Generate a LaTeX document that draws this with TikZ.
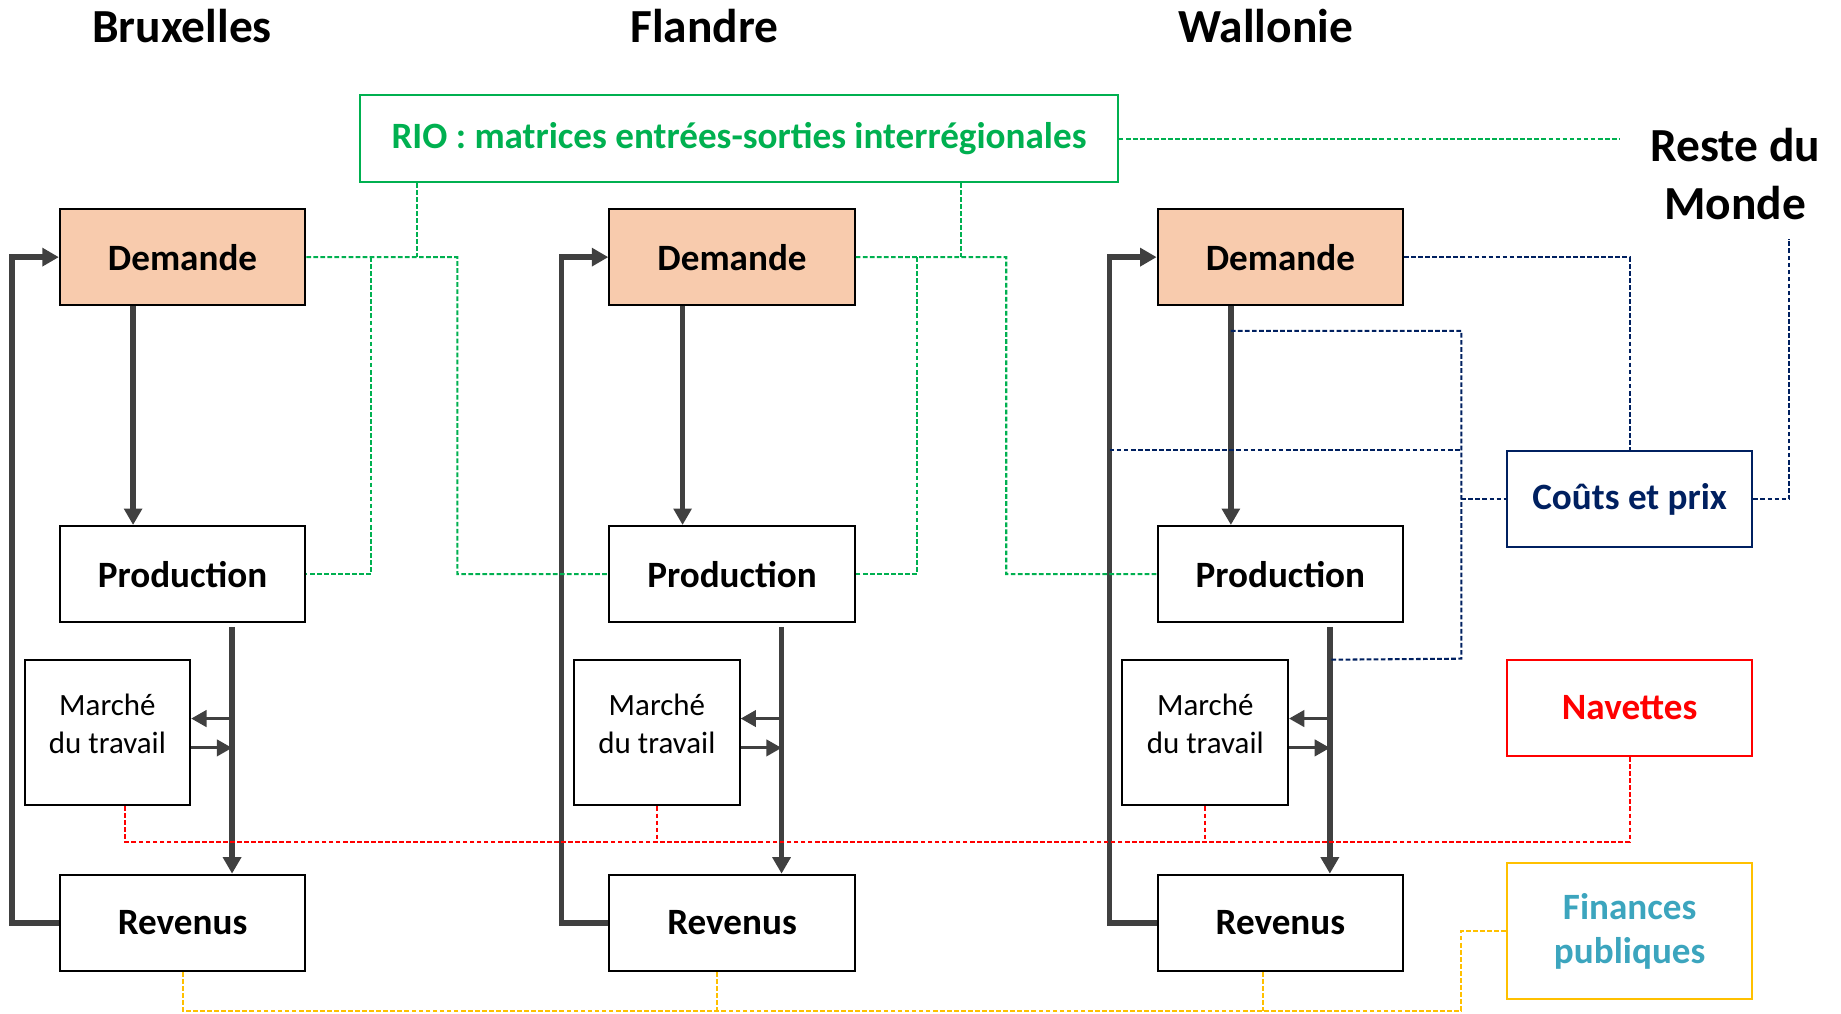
\documentclass[tikz,border=0pt]{standalone}
\usepackage{fontspec}
\setmainfont{Carlito}
\usetikzlibrary{arrows.meta,calc}
\definecolor{peche}{RGB}{248,203,173}
\definecolor{gris}{RGB}{64,64,64}
\definecolor{vertrio}{RGB}{0,176,80}
\definecolor{marine}{RGB}{0,32,96}
\definecolor{rouge}{RGB}{255,0,0}
\definecolor{jaune}{RGB}{255,192,0}
\definecolor{turquoise}{RGB}{60,165,190}
\newcommand{\corps}{\fontsize{18}{21.5}\selectfont}
\tikzset{
	bloc/.style={draw,line width=1pt,minimum width=41.8mm,minimum height=16.4mm,font=\corps\bfseries},
	marche/.style={draw,line width=1pt,minimum width=28.2mm,minimum height=24.8mm,align=center,font=\fontsize{15}{18.7}\selectfont},
	titre/.style={font=\fontsize{23}{28}\selectfont\bfseries,align=center},
	flux/.style={draw=gris,line width=0.95mm,-{Triangle[length=2.8mm,width=3mm]}},
	petit/.style={draw=gris,line width=0.5mm,-{Triangle[length=2.6mm,width=2.8mm]}},
	tiret/.style={line width=0.35mm,dash pattern=on 0.8mm off 0.4mm},
	vtir/.style={tiret,draw=vertrio},
	mtir/.style={tiret,draw=marine},
	rtir/.style={tiret,draw=rouge},
	jtir/.style={tiret,draw=jaune}
}
\begin{document}
\begin{tikzpicture}[x=0.2mm,y=-0.2mm]
	\useasboundingbox (0,0) rectangle (1568,863);
	\foreach \r/\dx/\tx/\nom in {bx/0/155/Bruxelles,fl/468/600/Flandre,wa/935/1078/Wallonie}{
		\node[titre] (t\r) at (\tx,22) {\nom};
		\node[bloc,fill=peche] (dem\r) at (155.5+\dx,219) {Demande};
		\node[bloc] (prod\r) at (155.5+\dx,489) {Production};
		\node[marche] (mar\r) at (91.5+\dx,624) {Marché\\du travail\\[-10pt]};
		\node[bloc] (rev\r) at (155.5+\dx,786) {Revenus};
		\coordinate (ad\r) at ($(dem\r.south west)!.3!(dem\r.south east)$);
		\coordinate (vp\r) at ($(prod\r.south west)!.7!(prod\r.south east)$);
		\draw[flux] (ad\r) -- (ad\r |- prod\r.north);
		\draw[flux] ([yshift=-0.6mm]vp\r) -- (vp\r |- rev\r.north);
		\draw[petit] ([yshift=2.4mm]mar\r.east -| vp\r) -- ([yshift=2.4mm]mar\r.east);
		\draw[petit] ([yshift=-2.6mm]mar\r.east) -- ([yshift=-2.6mm]mar\r.east -| vp\r);
		\draw[flux] (rev\r.west) -- ++(-40,0) |- (dem\r.west);
	}
	\node[bloc,draw=vertrio,text=vertrio,minimum width=129mm,minimum height=14.8mm] (rio) at (629.5,118) {RIO : matrices entrées-sorties interrégionales};
	\node[titre] (rdm) at (1478,148) {Reste du\\Monde};
	\node[bloc,draw=marine,text=marine] (couts) at (1388,425) {Coûts et prix};
	\node[bloc,draw=rouge,text=rouge] (nav) at (1388,603) {Navettes};
	\node[bloc,draw=jaune,text=turquoise,minimum height=23.2mm,align=center] (fin) at (1388,793) {Finances\\publiques};

	\draw[vtir] (dembx.east) -- ($(dembx.east)!.5!(demfl.west)$) |- (prodfl.west);
	\draw[vtir] ($(dembx.east)+(55,0)$) |- (prodbx.east);
	\draw[vtir] (demfl.east) -- ($(demfl.east)!.5!(demwa.west)$) |- (prodwa.west);
	\draw[vtir] ($(demfl.east)+(52,0)$) |- (prodfl.east);
	\draw[vtir] ($(rio.south west)+(49,0)$) coordinate (r1) -- (r1 |- dembx.east);
	\draw[vtir] ($(rio.south west)+(512,0)$) coordinate (r2) -- (r2 |- demfl.east);
	\draw[vtir] (rio.east) -- ([xshift=-4mm]rio.east -| rdm.west);

	\coordinate (cp) at ($(couts.west)+(-38,0)$);
	\draw[mtir] (demwa.east) -| (couts.north);
	\draw[mtir] ($(adwa)+(0,21)$) -| ($(cp)+(0,136)$) -- ($(vpwa)+(0,31)$);
	\draw[mtir] ([xshift=-8mm]demwa.west |- couts.north) -- (cp |- couts.north);
	\draw[mtir] (cp) -- (couts.west);
	\draw[mtir] (couts.east) -| ([xshift=9.2mm,yshift=-2mm]rdm.south);

	\draw[rtir] (nav.south) |- ($(marbx.south)+(15,30)$) -- ($(marbx.south)+(15,0)$);
	\draw[rtir] (marfl.south) -- ++(0,30);
	\draw[rtir] (marwa.south) -- ++(0,30);

	\draw[jtir] (fin.west) -- (fin.west -| cp) |- ($(revbx.south)+(0,33)$) -- (revbx.south);
	\draw[jtir] ($(revfl.south)+(-13,0)$) -- ++(0,33);
	\draw[jtir] ($(revwa.south)+(-15,0)$) -- ++(0,33);
\end{tikzpicture}
\end{document}
